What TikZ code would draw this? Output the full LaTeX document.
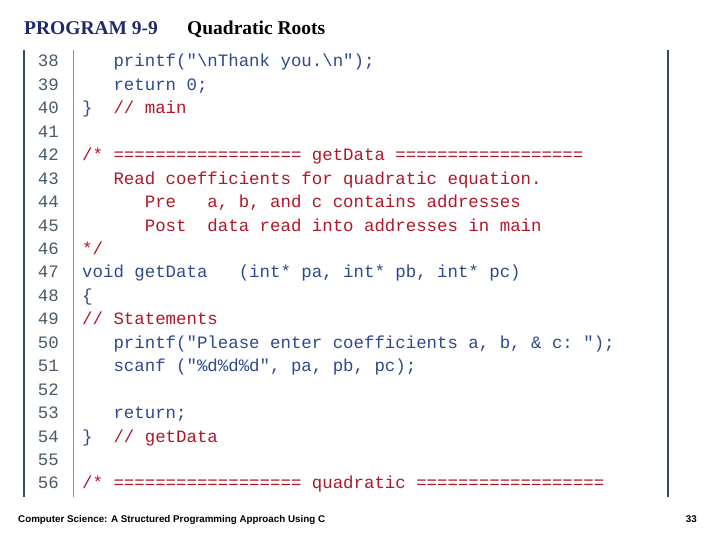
\documentclass[tikz,border=0pt]{standalone}
\usepackage{fontspec}
\setmainfont{Liberation Serif}
\setmonofont{Liberation Mono}
\setsansfont{Liberation Sans}
\definecolor{codeblue}{HTML}{2E4A8C}
\definecolor{cmtred}{HTML}{B0182A}
\definecolor{numgray}{HTML}{4A5A6A}
\definecolor{navy}{HTML}{1F2A6E}
\definecolor{rule}{HTML}{2F4F5F}
\begin{document}
\begin{tikzpicture}[x=1pt,y=-1pt,
  code/.style={anchor=base west,inner sep=0,font=\fontsize{17.4}{17}\ttfamily,text=codeblue},
  cmt/.style={code,text=cmtred},
  num/.style={anchor=base east,inner sep=0,font=\fontsize{17.4}{17}\ttfamily,text=numgray}]
\useasboundingbox[fill=white] (0,0) rectangle (720,540);
\node[anchor=base west,inner sep=0,font=\fontsize{19.5}{19}\bfseries,text=navy] (t1) at (24,35) {PROGRAM 9-9};
\node[anchor=base west,inner sep=0,font=\fontsize{19.5}{19}\bfseries] (t2) at (187,35) {Quadratic Roots};
\draw[rule,line width=1.2pt] (24,50) -- (24,497);
\draw[rule!60,line width=0.8pt] (73,50) -- (73,497);
\draw[rule,line width=1.2pt] (668,50) -- (668,497);
\foreach \n [count=\i from 0] in {38,...,56}
  \node[num] (n\n) at (59,{67+23.44*\i}) {\n};
\def\Y#1{{67+23.44*(#1-38)}}
\node[code] (l38) at (82,\Y{38}) {\ \ \ printf("\textbackslash nThank you.\textbackslash n");};
\node[code] (l39) at (82,\Y{39}) {\ \ \ return 0;};
\node[code] (l40) at (82,\Y{40}) {\}\ \ \textcolor{cmtred}{// main}};
\node[cmt] (l42) at (82,\Y{42}) {/* ================== getData ==================};
\node[cmt] (l43) at (82,\Y{43}) {\ \ \ Read coefficients for quadratic equation.};
\node[cmt] (l44) at (82,\Y{44}) {\ \ \ \ \ \ Pre\ \ \ a, b, and c contains addresses};
\node[cmt] (l45) at (82,\Y{45}) {\ \ \ \ \ \ Post\ \ data read into addresses in main};
\node[cmt] (l46) at (82,\Y{46}) {*/};
\node[code] (l47) at (82,\Y{47}) {void getData\ \ \ (int* pa, int* pb, int* pc)};
\node[code] (l48) at (82,\Y{48}) {\{};
\node[cmt] (l49) at (82,\Y{49}) {// Statements};
\node[code] (l50) at (82,\Y{50}) {\ \ \ printf("Please enter coefficients a, b, \& c: ");};
\node[code] (l51) at (82,\Y{51}) {\ \ \ scanf ("\%d\%d\%d", pa, pb, pc);};
\node[code] (l53) at (82,\Y{53}) {\ \ \ return;};
\node[code] (l54) at (82,\Y{54}) {\}\ \ \textcolor{cmtred}{// getData}};
\node[cmt] (l56) at (82,\Y{56}) {/* ================== quadratic ==================};
\node[anchor=base west,inner sep=0,font=\fontsize{9.8}{9}\sffamily\bfseries] (f1) at (18,522) {Computer Science: A Structured Programming Approach Using C};
\node[anchor=base east,inner sep=0,font=\fontsize{9.8}{9}\sffamily\bfseries] (f2) at (697,522) {33};
\end{tikzpicture}
\end{document}
